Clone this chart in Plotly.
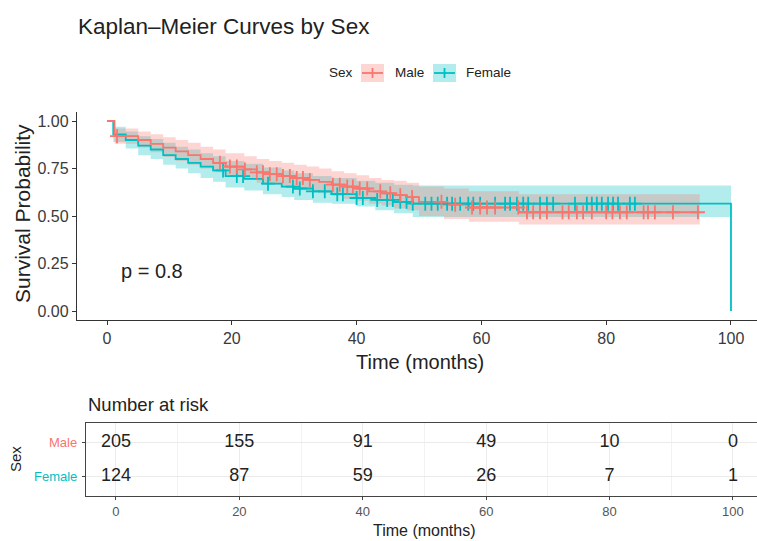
import numpy as np
import plotly.graph_objects as go

W, H = 757, 541
MALE_C = "#F8766D"
FEMALE_C = "#00BFC4"
MALE_F = "rgba(248,118,109,0.3)"
FEMALE_F = "rgba(0,191,196,0.3)"
TXT = "#222222"

# ---------------- data ----------------
male_time = [0, 1.2, 5, 7, 9, 11, 13, 15, 17, 19, 22, 24, 26, 28, 30, 32, 34, 36, 38, 40,
             42, 44, 46, 48, 50, 54, 58, 66, 95]
male_surv = [1.0, 0.92, 0.90, 0.88, 0.86, 0.84, 0.82, 0.80, 0.78, 0.76, 0.745, 0.73, 0.72,
             0.71, 0.70, 0.69, 0.68, 0.665, 0.655, 0.645, 0.63, 0.62, 0.61, 0.60, 0.575,
             0.56, 0.545, 0.52, 0.52]
male_lower = [1.0, 0.88, 0.86, 0.835, 0.81, 0.79, 0.77, 0.75, 0.73, 0.71, 0.69, 0.675, 0.665,
              0.65, 0.64, 0.63, 0.62, 0.605, 0.59, 0.58, 0.565, 0.555, 0.54, 0.53, 0.50,
              0.485, 0.47, 0.455, 0.455]
male_upper = [1.0, 0.96, 0.945, 0.93, 0.915, 0.90, 0.885, 0.865, 0.85, 0.83, 0.815, 0.80,
              0.79, 0.78, 0.77, 0.76, 0.75, 0.735, 0.725, 0.715, 0.70, 0.69, 0.685, 0.675,
              0.655, 0.645, 0.63, 0.615, 0.615]
male_censor = [1.6, 18.1, 19.7, 20.8, 22.1, 24.0, 25.0, 26.1, 27.2, 28.2, 29.3, 30.4, 31.4,
               32.5, 36.2, 37.3, 38.5, 39.4, 40.5, 41.7, 43.8, 45.4, 47.0, 48.9, 53.6, 55.8,
               58.5, 59.8, 60.9, 62.2, 65.9, 67.3, 68.3, 69.4, 70.5, 73.0, 74.0, 75.3, 76.3,
               77.7, 80.0, 81.0, 82.2, 83.3, 86.0, 86.7, 87.8, 90.7, 94.7]

female_time = [0, 1, 3, 5, 7, 9, 11, 13, 15, 17, 19, 22, 25, 28, 30, 33, 36, 40, 43, 46, 49, 100]
female_surv = [1.0, 0.93, 0.90, 0.87, 0.85, 0.82, 0.80, 0.78, 0.76, 0.74, 0.71, 0.695, 0.67,
               0.655, 0.645, 0.63, 0.615, 0.595, 0.585, 0.575, 0.565, 0.0]
female_lower = [1.0, 0.89, 0.855, 0.82, 0.80, 0.77, 0.75, 0.725, 0.70, 0.68, 0.65, 0.635,
                0.615, 0.60, 0.585, 0.57, 0.565, 0.55, 0.53, 0.515, 0.495, 0.495]
female_upper = [1.0, 0.97, 0.945, 0.92, 0.905, 0.885, 0.865, 0.85, 0.83, 0.815, 0.79, 0.775,
                0.755, 0.74, 0.725, 0.71, 0.70, 0.685, 0.675, 0.665, 0.66, 0.66]
female_censor = [18.6, 20.8, 21.8, 25.8, 29.8, 30.9, 33.0, 34.9, 36.9, 37.8, 40.0, 41.0, 43.3,
                 44.9, 45.8, 47.0, 48.0, 49.0, 51.0, 52.0, 53.0, 54.5, 55.3, 56.6, 57.9, 58.7,
                 59.8, 62.2, 63.8, 64.6, 65.7, 66.7, 67.5, 69.4, 70.5, 71.5, 75.0, 76.9, 77.7,
                 78.5, 79.3, 80.3, 81.1, 81.9, 83.8, 84.6]

risk_times = [0, 20, 40, 60, 80, 100]
male_risk = [205, 155, 91, 49, 10, 0]
female_risk = [124, 87, 59, 26, 7, 1]
p_value_text = "p = 0.8"


def step_value(times, surv, t):
    i = np.searchsorted(np.asarray(times), t, side="right") - 1
    return np.asarray(surv)[i]


def px(x):
    return x / W


def py(y):
    return 1 - y / H


fig = go.Figure()

# confidence bands
for times, lo, up, fc in [(female_time, female_lower, female_upper, FEMALE_F),
                          (male_time, male_lower, male_upper, MALE_F)]:
    fig.add_trace(go.Scatter(x=times, y=lo, mode="lines", line=dict(width=0, shape="hv"),
                             showlegend=False, hoverinfo="skip"))
    fig.add_trace(go.Scatter(x=times, y=up, mode="lines", line=dict(width=0, shape="hv"),
                             fill="tonexty", fillcolor=fc, showlegend=False, hoverinfo="skip"))

# survival curves
for times, surv, col, name in [(female_time, female_surv, FEMALE_C, "Female"),
                               (male_time, male_surv, MALE_C, "Male")]:
    fig.add_trace(go.Scatter(x=times, y=surv, mode="lines", name=name,
                             line=dict(color=col, width=1.8, shape="hv"), showlegend=False))

# censor marks
for times, surv, cens, col in [(female_time, female_surv, female_censor, FEMALE_C),
                               (male_time, male_surv, male_censor, MALE_C)]:
    yv = [float(step_value(times, surv, c)) for c in cens]
    fig.add_trace(go.Scatter(x=cens, y=yv, mode="markers", showlegend=False,
                             marker=dict(symbol="cross-thin", size=10,
                                         line=dict(color=col, width=1.8))))

# risk table
for vals, row in [(male_risk, 2), (female_risk, 1)]:
    fig.add_trace(go.Scatter(x=risk_times, y=[row] * len(risk_times), mode="text",
                             text=[str(v) for v in vals], xaxis="x2", yaxis="y2",
                             textfont=dict(size=18, color=TXT, family="Liberation Sans"),
                             showlegend=False, hoverinfo="skip"))

axis_col = "#333333"
fig.update_layout(
    width=W, height=H, autosize=False,
    margin=dict(l=0, r=0, t=0, b=0),
    paper_bgcolor="white", plot_bgcolor="white",
    font=dict(family="Liberation Sans", color=TXT),
    xaxis=dict(domain=[px(77), 1], range=[-4.81, 104.17], tickvals=risk_times,
               showline=True, linecolor=axis_col, linewidth=1.4, ticks="outside",
               ticklen=4, tickcolor=axis_col, showgrid=False, zeroline=False,
               tickfont=dict(size=16, color="#3a3a3a")),
    yaxis=dict(domain=[py(320), py(111.5)], range=[-0.047, 1.05],
               tickvals=[0, 0.25, 0.5, 0.75, 1.0], tickformat=".2f",
               showline=True, linecolor=axis_col, linewidth=1.4, ticks="outside",
               ticklen=4, tickcolor=axis_col, showgrid=False, zeroline=False,
               tickfont=dict(size=16, color="#3a3a3a")),
    xaxis2=dict(domain=[px(86), 1], range=[-4.86, 103.9], anchor="y2", tickvals=risk_times,
                showline=True, mirror=True, linecolor="#444444", linewidth=1.2,
                ticks="outside", ticklen=3, tickcolor="#444444", showgrid=True,
                gridcolor="#ebebeb", gridwidth=1, zeroline=False,
                minor=dict(tickvals=[10, 30, 50, 70, 90], showgrid=True,
                           gridcolor="#f2f2f2", ticks=""),
                tickfont=dict(size=13, color="#555555")),
    yaxis2=dict(domain=[py(496), py(423)], range=[0.4, 2.6], anchor="x2", tickvals=[1, 2],
                ticktext=["", ""], showline=True, mirror=False, linecolor="#444444",
                linewidth=1.2, ticks="outside", ticklen=3, tickcolor="#444444",
                showgrid=True, gridcolor="#ebebeb", zeroline=False),
)


def label(text, x, y, size, color=TXT, xanchor="center", angle=0, xref="paper", yref="paper"):
    return dict(text=text, x=x, y=y, xref=xref, yref=yref, xanchor=xanchor,
                yanchor="middle", textangle=angle, showarrow=False,
                font=dict(size=size, color=color))


ann = [
    label("Kaplan\u2013Meier Curves by Sex", px(76), py(27), 22.5, xanchor="left"),
    label("Survival Probability", px(22), py(214), 21, angle=-90),
    label("Time (months)", px(420), py(362), 20),
    label(p_value_text, 2.0, 0.21, 20, xanchor="left", xref="x", yref="y"),
    label("Number at risk", px(86), py(404), 18.5, xanchor="left"),
    label("Male", px(79), 2, 13, color=MALE_C, xanchor="right", yref="y2"),
    label("Female", px(79), 1, 13, color=FEMALE_C, xanchor="right", yref="y2"),
    label("Sex", px(15), py(459), 15, angle=-90),
    label("Time (months)", px(424), py(530), 16),
    # legend
    label("Sex", px(327), py(72), 13.5, xanchor="left"),
    label("Male", px(393), py(72), 13.5, xanchor="left"),
    label("Female", px(464), py(72), 13.5, xanchor="left"),
]
fig.update_layout(annotations=ann)

shapes = []
for x0, fc, lc in [(361, MALE_F, MALE_C), (433, FEMALE_F, FEMALE_C)]:
    shapes.append(dict(type="rect", xref="paper", yref="paper", x0=px(x0), x1=px(x0 + 23),
                       y0=py(82), y1=py(64), fillcolor=fc, line=dict(width=0)))
    shapes.append(dict(type="line", xref="paper", yref="paper", x0=px(x0 + 1), x1=px(x0 + 22),
                       y0=py(73), y1=py(73), line=dict(color=lc, width=1.8)))
    shapes.append(dict(type="line", xref="paper", yref="paper", x0=px(x0 + 11.5),
                       x1=px(x0 + 11.5), y0=py(68), y1=py(78), line=dict(color=lc, width=1.8)))
fig.update_layout(shapes=shapes)

fig.write_html("out.html", config={"displayModeBar": False},
               post_script="document.body.style.margin='0';document.body.style.overflow='hidden';")
